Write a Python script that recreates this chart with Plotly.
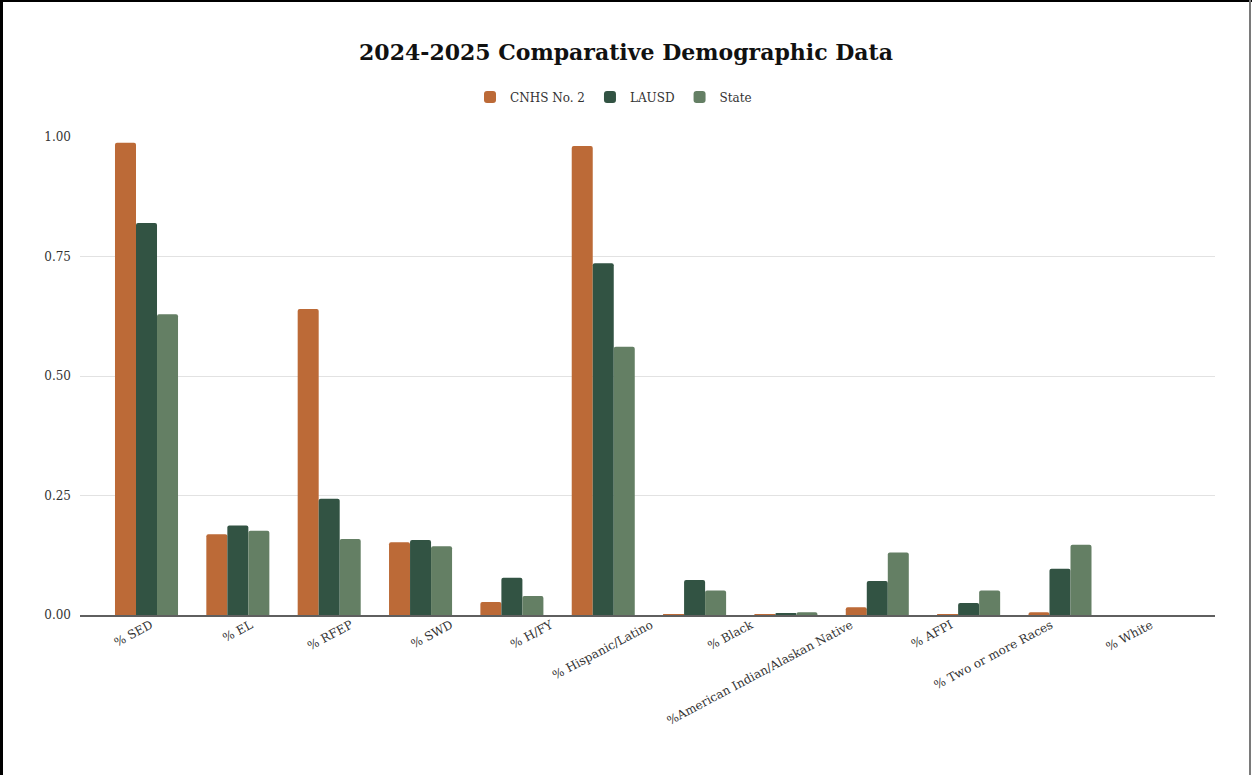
import plotly.graph_objects as go

# Demographic categories and share of students per group
categories = ["% SED", "% EL", "% RFEP", "% SWD", "% H/FY", "% Hispanic/Latino",
              "% Black", "%American Indian/Alaskan Native", "% AFPI",
              "% Two or more Races", "% White"]
cnhs = [0.988, 0.169, 0.640, 0.152, 0.027, 0.981, 0.002, 0.001, 0.016, 0.001, 0.006]
lausd = [0.820, 0.187, 0.243, 0.157, 0.078, 0.736, 0.073, 0.004, 0.071, 0.025, 0.097]
state = [0.629, 0.176, 0.159, 0.144, 0.040, 0.561, 0.051, 0.006, 0.131, 0.051, 0.147]
series_names = ["CNHS No. 2", "LAUSD", "State"]
y_ticks = [0, 0.25, 0.5, 0.75, 1.0]

colors = ["#BC6A37", "#325343", "#647F64"]
font_family = "DejaVu Serif, Liberation Serif, serif"

W, H = 1252, 775
L, R, T, B = 80, 37, 137, 160
pw, ph = W - L - R, H - T - B

fig = go.Figure()
for name, vals, col in zip(series_names, [cnhs, lausd, state], colors):
    fig.add_trace(go.Bar(
        x=list(range(len(categories))), y=vals, name=name,
        marker=dict(color=col, cornerradius=2, line=dict(width=0)),
    ))

# empty trace that carries the category label axis
fig.add_trace(go.Scatter(
    x=list(range(len(categories))), y=cnhs, xaxis="x2", yaxis="y",
    mode="none", showlegend=False, hoverinfo="skip",
))


def px_x(p):
    return (p - L) / pw


def px_y(p):
    return (H - B - p) / ph


# page frame
frame = [
    dict(x0=px_x(1.5), x1=px_x(1.5), y0=px_y(0), y1=px_y(H), color="#000000", width=3),
    dict(x0=px_x(0), x1=px_x(W), y0=px_y(1), y1=px_y(1), color="#000000", width=2),
    dict(x0=px_x(1250), x1=px_x(1250), y0=px_y(0), y1=px_y(H), color="#7a7a7a", width=2),
]
shapes = [dict(type="line", xref="paper", yref="paper", x0=f["x0"], x1=f["x1"],
               y0=f["y0"], y1=f["y1"], line=dict(color=f["color"], width=f["width"]))
          for f in frame]

# category labels sit on a slightly wider pitch than the bar groups
label_pitch = 100.0
label_first = 151.0
lab_lo = (L - label_first) / label_pitch
lab_hi = (W - R - label_first) / label_pitch

fig.update_layout(
    width=W, height=H,
    margin=dict(l=L, r=R, t=T, b=B),
    paper_bgcolor="white", plot_bgcolor="white",
    barmode="group", bargap=0.31, bargroupgap=0,
    font=dict(family=font_family, color="#333333", size=12),
    title=dict(text="<b>2024-2025 Comparative Demographic Data</b>",
               x=0.5, xanchor="center", xref="container",
               y=1 - 52 / H, yanchor="middle", yref="container",
               font=dict(family=font_family, size=22, color="#111111")),
    legend=dict(orientation="h", x=px_x(470), xanchor="left", y=px_y(97), yanchor="middle",
                font=dict(family=font_family, size=12, color="#333333"),
                itemwidth=30, traceorder="normal"),
    showlegend=True,
    shapes=shapes,
    xaxis=dict(
        tickmode="array", tickvals=list(range(len(categories))), ticktext=categories,
        range=[-0.728, 11.697], showticklabels=False, showgrid=False,
        showline=True, linecolor="#5f5f5f", linewidth=1.5,
        ticks="", zeroline=False,
    ),
    xaxis2=dict(
        overlaying="x", anchor="y", side="bottom",
        range=[lab_lo, lab_hi],
        tickmode="array", tickvals=list(range(len(categories))), ticktext=categories,
        tickangle=-28, showgrid=False, showline=False, zeroline=False, ticks="",
        tickfont=dict(family=font_family, size=12, color="#333333"),
    ),
    yaxis=dict(
        range=[0, 1.0], tickvals=y_ticks, tickformat=".2f",
        showgrid=True, gridcolor="#e2e2e2", gridwidth=1,
        zeroline=False, showline=False, ticks="", ticklen=0,
        ticklabelstandoff=8,
        tickfont=dict(family=font_family, size=12, color="#333333"),
    ),
)

fig.write_html("out.html")
